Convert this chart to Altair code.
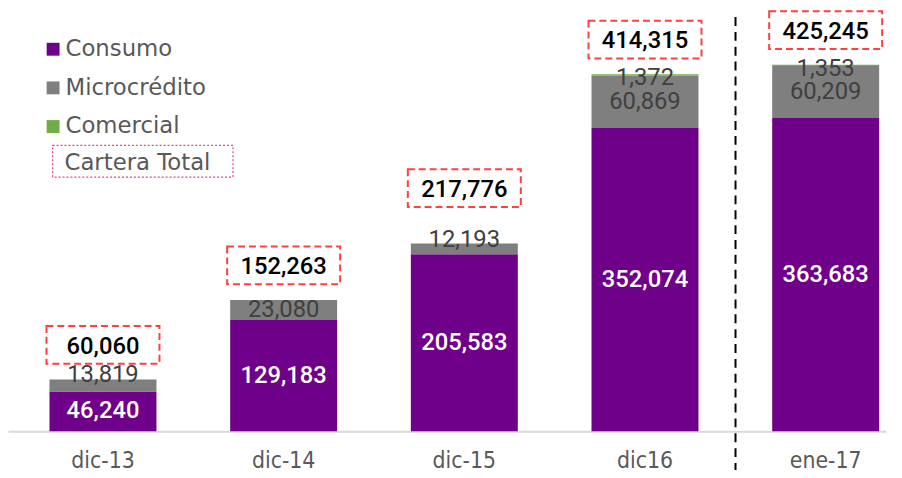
import altair as alt
import pandas as pd

categories = ["dic-13", "dic-14", "dic-15", "dic16", "ene-17"]
consumo = [46240, 129183, 205583, 352074, 363683]
microcredito = [13819, 23080, 12193, 60869, 60209]
comercial = [0, 0, 0, 1372, 1353]
cartera_total = [60060, 152263, 217776, 414315, 425245]
series_names = ["Consumo", "Microcrédito", "Comercial"]
series_colors = ["#6f0089", "#7f7f7f", "#70ad47"]
legend_extra = ["Cartera Total"]

rows = []
for i, c in enumerate(categories):
    base = 0
    for k, (name, vals) in enumerate(zip(series_names, [consumo, microcredito, comercial])):
        v = vals[i]
        rows.append(dict(cat=c, serie=name, value=v, y0=base, y1=base + v,
                         mid=base + v / 2, ord=k))
        base += v
seg = pd.DataFrame(rows)
tot = pd.DataFrame(dict(cat=categories, total=cartera_total))
leg = pd.DataFrame(dict(label=legend_extra))

LABEL_FONT = "Liberation Sans Narrow, DejaVu Sans Condensed, Roboto, sans-serif"
LEG_FONT = "DejaVu Sans, sans-serif"
NUM_FONT = "Roboto, sans-serif"

xs = alt.Scale(paddingInner=0.408, paddingOuter=0.134, align=0.857)
ax = alt.Axis(title=None, labelAngle=0, ticks=False, domainColor="#d9d9d9",
              domainWidth=2, labelFont=LABEL_FONT, labelFontSize=23,
              labelColor="#595959", labelPadding=19)
X = alt.X("cat:N", sort=categories, scale=xs, axis=ax)
ys = alt.Scale(domain=[0, 488800], nice=False, zero=True)

bars = alt.Chart(seg).transform_filter("datum.value > 0").mark_bar().encode(
    x=X,
    y=alt.Y("y0:Q", scale=ys, axis=None),
    y2="y1:Q",
    color=alt.Color("serie:N", scale=alt.Scale(domain=series_names, range=series_colors),
                    legend=alt.Legend(orient="none", legendX=34, legendY=28, title=None,
                                      symbolType="square", symbolSize=169,
                                      symbolStrokeWidth=0, labelFont=LEG_FONT,
                                      labelFontSize=23, labelColor="#595959",
                                      labelOffset=1, rowPadding=15, padding=0)),
    order="ord:Q",
)

cons_lbl = alt.Chart(seg).transform_filter("datum.serie == 'Consumo'").mark_text(
    font=NUM_FONT, fontSize=24, fontWeight=500, color="white", baseline="middle"
).encode(x=X, y=alt.Y("mid:Q", scale=ys), text=alt.Text("value:Q", format=","))

micro_big = alt.Chart(seg).transform_filter(
    "datum.serie == 'Microcrédito' && datum.value >= 20000").mark_text(
    font=NUM_FONT, fontSize=24, color="#404040", baseline="middle"
).encode(x=X, y=alt.Y("mid:Q", scale=ys), text=alt.Text("value:Q", format=","))

micro_small = alt.Chart(seg).transform_filter(
    "datum.serie == 'Microcrédito' && datum.value < 20000").mark_text(
    font=NUM_FONT, fontSize=24, color="#404040", baseline="middle", dy=-4
).encode(x=X, y=alt.Y("y1:Q", scale=ys), text=alt.Text("value:Q", format=","))

com_lbl = alt.Chart(seg).transform_filter(
    "datum.serie == 'Comercial' && datum.value > 0").mark_text(
    font=NUM_FONT, fontSize=24, color="#404040", baseline="middle", dy=4
).encode(x=X, y=alt.Y("y1:Q", scale=ys), text=alt.Text("value:Q", format=","))

BOX = "M-1,-0.333L1,-0.333L1,0.333L-1,0.333Z"

def total_layers(flt, off):
    t = alt.Chart(tot).transform_filter(flt).mark_text(
        font=NUM_FONT, fontSize=24, fontWeight=500, color="black", baseline="middle", dy=off
    ).encode(x=X, y=alt.Y("total:Q", scale=ys), text=alt.Text("total:Q", format=","))
    b = alt.Chart(tot).transform_filter(flt).mark_point(
        shape=BOX, size=114 * 114, filled=False, stroke="#ff4040", strokeWidth=2,
        strokeDash=[7, 4], opacity=1, yOffset=off - 2
    ).encode(x=X, y=alt.Y("total:Q", scale=ys))
    return [b, t]

tot_layers = total_layers("datum.cat != 'dic-15'", -33) + total_layers("datum.cat == 'dic-15'", -54)

rule = alt.Chart(tot).transform_filter("datum.cat == 'ene-17'").mark_rule(
    color="black", strokeWidth=2, strokeDash=[9, 6], xOffset=-37
).encode(
    x=alt.X("cat:N", sort=categories, scale=xs, axis=ax, bandPosition=0),
    y=alt.value(7), y2=alt.value(464),
)

leg_text = alt.Chart(leg).mark_text(
    font=LEG_FONT, fontSize=23, color="#595959", align="left", baseline="middle"
).encode(x=alt.value(57), y=alt.value(154), text="label:N")

leg_box = alt.Chart(leg).mark_point(
    shape="M-1,-0.176L1,-0.176L1,0.176L-1,0.176Z", size=182 * 182, filled=False,
    stroke="#e8457a", strokeWidth=1.2, strokeDash=[2, 2], opacity=1
).encode(x=alt.value(136), y=alt.value(152.5))

chart = alt.layer(
    bars, cons_lbl, micro_big, micro_small, com_lbl, *tot_layers, rule, leg_box, leg_text
).properties(
    width=886, height=425,
    autosize=alt.AutoSizeParams(type="none"),
    padding={"left": 0, "top": 0, "right": 8, "bottom": 40},
).configure_view(stroke=None)

chart.save("out.html", embed_options={"renderer": "svg", "actions": False})
